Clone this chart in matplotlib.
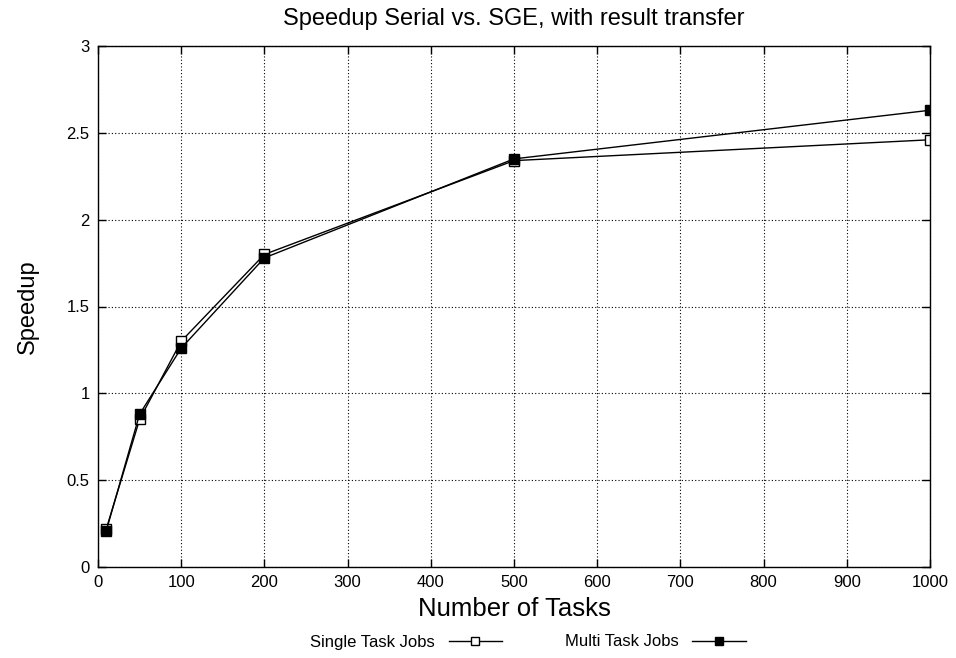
import matplotlib
matplotlib.use("Agg")
import matplotlib.pyplot as plt

plt.rcParams["font.family"] = ["Liberation Sans", "DejaVu Sans"]

tasks = [10, 50, 100, 200, 500, 1000]
single_task = [0.22, 0.85, 1.30, 1.80, 2.34, 2.46]
multi_task = [0.21, 0.88, 1.26, 1.78, 2.35, 2.63]

x_ticks = list(range(0, 1001, 100))
y_ticks = [0, 0.5, 1, 1.5, 2, 2.5, 3]
y_tick_labels = ["0", "0.5", "1", "1.5", "2", "2.5", "3"]

fig = plt.figure(figsize=(9.56, 6.58), dpi=100)
ax = fig.add_axes([98 / 956, 1 - 567 / 658, (930 - 98) / 956, (567 - 46) / 658])

ax.plot(tasks, single_task, color="black", linewidth=1.0, marker="s",
        markersize=7, markerfacecolor="white", markeredgecolor="black",
        markeredgewidth=1.0, label="Single Task Jobs")
ax.plot(tasks, multi_task, color="black", linewidth=1.0, marker="s",
        markersize=7, markerfacecolor="black", markeredgecolor="black",
        label="Multi Task Jobs")

ax.set_xlim(0, 1000)
ax.set_ylim(0, 3)
ax.set_xticks(x_ticks)
ax.set_yticks(y_ticks)
ax.set_yticklabels(y_tick_labels)
ax.tick_params(direction="in", top=True, right=True, length=6, width=1,
               labelsize=12, pad=6)
ax.grid(True, linestyle=(0, (1, 2)), color="black", linewidth=0.8)
for spine in ax.spines.values():
    spine.set_linewidth(1.0)

ax.set_title("Speedup Serial vs. SGE, with result transfer", fontsize=17, pad=15)
ax.set_xlabel("Number of Tasks", fontsize=18.5, labelpad=5)
ax.set_ylabel("Speedup", fontsize=17, labelpad=20)

fig.legend(loc="center", bbox_to_anchor=(528 / 956, 1 - 642 / 658), ncol=2,
           frameon=False, markerfirst=False, fontsize=12, markerscale=0.8,
           handlelength=3.2, handletextpad=0.8, columnspacing=3.8)

fig.savefig("out.png", dpi=100)
